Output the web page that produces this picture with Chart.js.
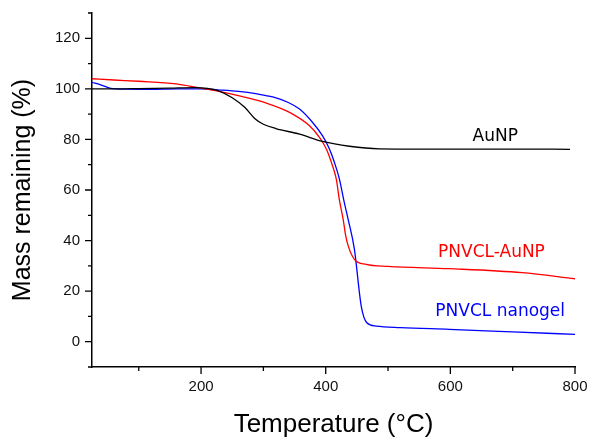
<!DOCTYPE html>
<html lang="en">
<head>
<meta charset="UTF-8" />
<title>TGA</title>
<script src="https://cdn.jsdelivr.net/npm/chart.js"></script>
<style>
  html, body { margin: 0; padding: 0; background: #fff; }
  #wrap { width: 590px; height: 440px; }
</style>
</head>
<body>
<div id="wrap"><canvas id="tga"></canvas></div>
<script>
  // temperature (°C) and mass remaining (%)
  const auTemp = [25, 60, 100, 150, 190, 210, 227, 250, 270, 286, 300, 320, 358, 395, 438, 486, 550, 600, 700, 792];
  const auMass = [100, 100, 100.1, 100.3, 100.5, 100.2, 99.3, 96.5, 92.7, 88.3, 86, 84.3, 82.1, 79.2, 77.3, 76.3, 76.2, 76.2, 76.2, 76.1];

  const mixTemp = [25, 60, 100, 160, 195, 227, 265, 307, 342, 374, 390, 401, 411, 417, 422, 428, 432, 437, 446, 465, 500, 598, 715, 800];
  const mixMass = [104, 103.5, 103, 102, 100.5, 99.1, 97, 94.2, 90.7, 85.4, 80.8, 76.2, 69.5, 64.3, 56, 48.4, 42, 37.2, 32.6, 30.6, 29.8, 28.9, 27.3, 24.9];

  const gelTemp = [25, 40, 55, 80, 120, 160, 200, 227, 260, 290, 315, 340, 358, 379, 395, 406, 414, 422, 429, 436, 446, 457, 466, 481, 520, 598, 700, 800];
  const gelMass = [102.6, 101.5, 100.2, 99.9, 99.8, 100, 100, 99.6, 99, 98, 96.8, 94.6, 92, 86.7, 81.4, 76.2, 70.9, 64.3, 56, 48.4, 36.6, 14.1, 7.5, 6.2, 5.6, 4.9, 3.9, 2.9];

  const xMajor = [200, 400, 600, 800];
  const xMinor = [100, 300, 500, 700];
  const yMajor = [0, 20, 40, 60, 80, 100, 120];
  const yMinor = [-10, 10, 30, 50, 70, 90, 110, 130];

  const curveNames = ['AuNP', 'PNVCL-AuNP', 'PNVCL nanogel'];
  const curveColors = ['#000000', '#ff0000', '#0000ff'];
  const labelX = [672, 666, 680];
  const labelY = [81.3, 35.3, 11.8];

  function pts(xs, ys) {
    return xs.map((x, i) => ({ x: x, y: ys[i] }));
  }

  // draws outward major/minor ticks and the curve labels
  const decorations = {
    id: 'decorations',
    afterDraw(chart) {
      const ctx = chart.ctx;
      const xs = chart.scales.x, ys = chart.scales.y;
      const left = chart.chartArea.left, bottom = chart.chartArea.bottom;
      ctx.save();
      ctx.strokeStyle = '#000';
      ctx.lineWidth = 1.3;
      ctx.beginPath();
      xMajor.forEach(v => { const p = xs.getPixelForValue(v); ctx.moveTo(p, bottom); ctx.lineTo(p, bottom + 7); });
      xMinor.forEach(v => { const p = xs.getPixelForValue(v); ctx.moveTo(p, bottom); ctx.lineTo(p, bottom + 4); });
      yMajor.forEach(v => { const p = ys.getPixelForValue(v); ctx.moveTo(left, p); ctx.lineTo(left - 7, p); });
      yMinor.forEach(v => { const p = ys.getPixelForValue(v); ctx.moveTo(left, p); ctx.lineTo(left - 4, p); });
      ctx.stroke();

      ctx.font = '17px "DejaVu Sans"';
      ctx.textAlign = 'center';
      ctx.textBaseline = 'middle';
      curveNames.forEach((name, i) => {
        ctx.fillStyle = curveColors[i];
        ctx.fillText(name, xs.getPixelForValue(labelX[i]), ys.getPixelForValue(labelY[i]));
      });
      ctx.restore();
    }
  };

  const series = [pts(auTemp, auMass), pts(mixTemp, mixMass), pts(gelTemp, gelMass)];

  new Chart(document.getElementById('tga'), {
    type: 'scatter',
    data: {
      datasets: series.map((d, i) => ({
        label: curveNames[i],
        data: d,
        showLine: true,
        borderColor: curveColors[i],
        borderWidth: 1.3,
        pointRadius: 0,
        cubicInterpolationMode: 'monotone',
        fill: false
      }))
    },
    options: {
      responsive: true,
      maintainAspectRatio: false,
      animation: false,
      layout: { padding: { left: 0, right: 15, top: 13, bottom: 0 } },
      plugins: { legend: { display: false }, tooltip: { enabled: false } },
      scales: {
        x: {
          type: 'linear',
          min: 25,
          max: 800,
          grid: { display: false, drawTicks: false },
          border: { display: true, color: '#000', width: 1.5 },
          afterBuildTicks: s => { s.ticks = xMajor.map(v => ({ value: v })); },
          ticks: { color: '#111', font: { family: 'Liberation Sans', size: 15 }, padding: 11, maxRotation: 0 },
          title: { display: true, text: 'Temperature (°C)', color: '#000', font: { family: 'Liberation Sans', size: 26 }, padding: { top: 0, bottom: 0 } },
          afterFit: s => { s.height = 73; s.paddingLeft = 0; s.paddingRight = 0; }
        },
        y: {
          type: 'linear',
          min: -10,
          max: 130,
          grid: { display: false, drawTicks: false },
          border: { display: true, color: '#000', width: 1.5 },
          afterBuildTicks: s => { s.ticks = yMajor.map(v => ({ value: v })); },
          ticks: { color: '#111', font: { family: 'Liberation Sans', size: 15 }, padding: 12 },
          title: { display: true, text: 'Mass remaining (%)', color: '#000', font: { family: 'Liberation Sans', size: 25 }, padding: { top: 8, bottom: 0 } },
          afterFit: s => { s.width = 92; s.paddingTop = 0; s.paddingBottom = 0; }
        }
      }
    },
    plugins: [decorations]
  });
</script>
</body>
</html>
